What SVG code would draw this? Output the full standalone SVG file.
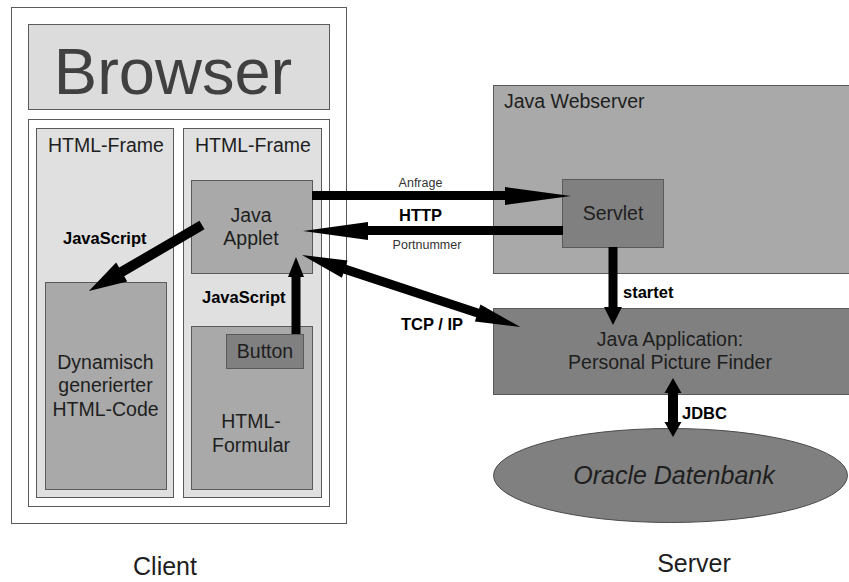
<svg xmlns="http://www.w3.org/2000/svg" width="849" height="582" viewBox="0 0 849 582">
  <style>
    .box { stroke: #5a5a5a; stroke-width: 1; }
    .light { fill: #e0e0e0; }
    .mid { fill: #a9a9a9; }
    .dark { fill: #808080; }
    .white { fill: #ffffff; }
    text { font-family: "Liberation Sans", Arial, sans-serif; fill: #1e1e1e; }
    .t { font-size: 19.5px; }
    .c { text-anchor: middle; }
    .lbl { font-size: 16.5px; font-weight: bold; fill: #000; }
    .small { font-size: 12.5px; fill: #333; }
    .big { font-size: 25px; }
    .arrow { fill: #000; stroke: none; }
  </style>

  <!-- client side -->
  <g id="client">
    <rect class="box white" x="11.5" y="7.5" width="335" height="516"/>
    <text class="big c" x="165" y="575">Client</text>
  </g>
  <g id="browser-title">
    <rect class="box" fill="#dcdcdc" x="28.5" y="24.5" width="301" height="85"/>
    <text class="c" x="173" y="94" font-size="65" style="fill:#404040">Browser</text>
  </g>
  <g id="browser-body">
    <rect class="box white" x="28.5" y="119.5" width="301" height="387"/>
  </g>
  <g id="frame-left">
    <rect class="box light" x="36.5" y="128.5" width="137" height="369"/>
    <text class="t c" x="106" y="152">HTML-Frame</text>
  </g>
  <g id="frame-right">
    <rect class="box light" x="183.5" y="128.5" width="138" height="369"/>
    <text class="t c" x="253" y="152">HTML-Frame</text>
  </g>
  <g id="applet">
    <rect class="box mid" x="191.5" y="180.5" width="121" height="93"/>
    <text class="t c" x="251" y="222">Java</text>
    <text class="t c" x="251" y="245">Applet</text>
  </g>
  <g id="dynamic-html">
    <rect class="box mid" x="45.5" y="282.5" width="121" height="207"/>
    <text class="t c" x="105.5" y="369">Dynamisch</text>
    <text class="t c" x="105.5" y="392">generierter</text>
    <text class="t c" x="105.5" y="416">HTML-Code</text>
  </g>
  <g id="form">
    <rect class="box mid" x="191.5" y="326.5" width="121" height="163"/>
    <text class="t c" x="251" y="428">HTML-</text>
    <text class="t c" x="251" y="452">Formular</text>
  </g>
  <g id="button">
    <rect class="box dark" x="226.5" y="334.5" width="77" height="34"/>
    <text class="t c" x="265" y="358">Button</text>
  </g>

  <!-- server side -->
  <g id="webserver">
    <rect class="box mid" x="493.5" y="85.5" width="360" height="188"/>
    <text class="t" x="504" y="108">Java Webserver</text>
  </g>
  <g id="servlet">
    <rect class="box dark" x="562.5" y="179.5" width="101" height="68"/>
    <text class="t c" x="613" y="220">Servlet</text>
  </g>
  <g id="application">
    <rect class="box dark" x="493.5" y="308.5" width="360" height="86"/>
    <text class="t c" x="670" y="346">Java Application:</text>
    <text class="t c" x="670" y="369">Personal Picture Finder</text>
  </g>
  <g id="database">
    <ellipse cx="670.5" cy="475.5" rx="177" ry="47" fill="#808080" stroke="#4a4a4a" stroke-width="1"/>
    <text class="c" x="674" y="484" font-size="25" font-style="italic">Oracle Datenbank</text>
  </g>
  <g id="server-label">
    <text class="big c" x="694" y="572">Server</text>
  </g>

  <!-- connectors -->
  <g id="connectors">
    <!-- request: applet to servlet -->
    <polygon class="arrow" points="312,191 505,191 505,187 571,196 505,205 505,200 312,200"/>
    <!-- reply: servlet to applet -->
    <polygon class="arrow" points="563,226 368,226 368,222 303,231 368,240 368,235 563,235"/>
    <!-- TCP/IP: applet to application, both ways -->
    <polygon class="arrow" transform="translate(302,255) rotate(18.27)" points="0,0 45,-9 45,-4.5 185,-4.5 185,-9 230,0 185,9 185,4.5 45,4.5 45,9"/>
    <!-- applet writes into the left frame -->
    <polygon class="arrow" transform="translate(202,225) rotate(149.7)" points="0,-5 93,-5 93,-11 131,0 93,11 93,5 0,5"/>
    <!-- button calls applet -->
    <polygon class="arrow" points="291.5,334 291.5,277 288,277 296,257 304,277 300.5,277 300.5,334"/>
    <!-- servlet starts application -->
    <polygon class="arrow" points="608.5,247 608.5,307 604,307 613,325 622,307 617.5,307 617.5,247"/>
    <!-- JDBC link -->
    <polygon class="arrow" points="673,378 681.5,393 678,393 678,422 681.5,422 673,437 664.5,422 668,422 668,393 664.5,393"/>

    <text class="small c" x="420.5" y="187">Anfrage</text>
    <text class="lbl" x="399" y="221">HTTP</text>
    <text class="small c" x="427" y="249">Portnummer</text>
    <text class="lbl" x="401" y="330">TCP / IP</text>
    <text class="lbl" x="63" y="244">JavaScript</text>
    <text class="lbl" x="202" y="303">JavaScript</text>
    <text class="lbl" x="623" y="298">startet</text>
    <text class="lbl" x="682" y="419">JDBC</text>
  </g>
</svg>
